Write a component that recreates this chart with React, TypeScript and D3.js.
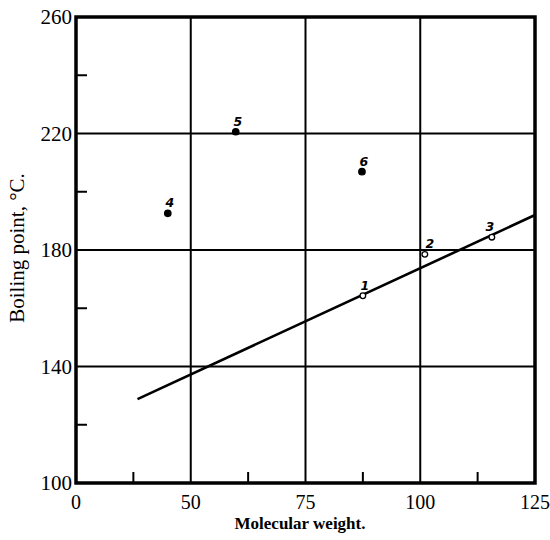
import React from "react";
import * as d3 from "d3";

// Data
const pointIds = ["1", "2", "3", "4", "5", "6"];
const molWeights = [87.5, 101, 115.6, 45, 59.8, 87.3];
const boilingPoints = [164.3, 178.5, 184.4, 192.6, 220.6, 206.9];
const pointFilled = [false, false, false, true, true, true];

const lineX = [38.4, 125];
const lineY = [128.8, 192];

const xTickValues = [25, 50, 75, 100, 125];
const xTickLabels = ["0", "50", "75", "100", "125"];
const xMinorTicks = [37.5, 62.5, 87.5, 112.5];
const xGrid = [50, 75, 100];

const yTickValues = [100, 140, 180, 220, 260];
const yTickLabels = ["100", "140", "180", "220", "260"];
const yMinorTicks = [120, 160, 200, 240];
const yGrid = [140, 180, 220];

const W = 550;
const H = 540;
const M = { left: 76, right: 535, top: 17, bottom: 483 };
const FONT = "'Liberation Serif', 'DejaVu Serif', serif";

export default function App() {
  const x = d3.scaleLinear().domain([25, 125]).range([M.left, M.right]);
  const y = d3.scaleLinear().domain([100, 260]).range([M.bottom, M.top]);
  const line = d3
    .line<number>()
    .x((_, i) => x(lineX[i]))
    .y((d) => y(d));

  return (
    <svg
      width={W}
      height={H}
      style={{ position: "absolute", left: 0, top: 0, background: "#fff" }}
    >
      {/* grid */}
      {xGrid.map((v) => (
        <line key={"gx" + v} x1={x(v)} x2={x(v)} y1={y(100)} y2={y(260)} stroke="#000" strokeWidth={2} />
      ))}
      {yGrid.map((v) => (
        <line key={"gy" + v} x1={x(25)} x2={x(125)} y1={y(v)} y2={y(v)} stroke="#000" strokeWidth={2} />
      ))}
      {/* minor ticks */}
      {xMinorTicks.map((v) => (
        <line key={"mx" + v} x1={x(v)} x2={x(v)} y1={y(100)} y2={y(100) - 11} stroke="#000" strokeWidth={2} />
      ))}
      {yMinorTicks.map((v) => (
        <line key={"my" + v} x1={x(25)} x2={x(25) + 11} y1={y(v)} y2={y(v)} stroke="#000" strokeWidth={2} />
      ))}
      {/* frame */}
      <rect
        x={M.left}
        y={M.top}
        width={M.right - M.left}
        height={M.bottom - M.top}
        fill="none"
        stroke="#000"
        strokeWidth={3.5}
      />
      {/* regression line */}
      <path d={line(lineY) || ""} fill="none" stroke="#000" strokeWidth={2.6} />
      {/* points */}
      {pointIds.map((id, i) => (
        <g key={"p" + id}>
          <circle
            cx={x(molWeights[i])}
            cy={y(boilingPoints[i])}
            r={pointFilled[i] ? 3.2 : 2.8}
            fill={pointFilled[i] ? "#000" : "#fff"}
            stroke="#000"
            strokeWidth={1.3}
          />
          <text
            x={x(molWeights[i]) + (i === 1 ? 5 : i === 2 ? -2 : 2)}
            y={y(boilingPoints[i]) - 6}
            fontFamily="'DejaVu Sans', sans-serif"
            fontStyle="italic"
            fontWeight="bold"
            fontSize={12.5}
            textAnchor="middle"
          >
            {id}
          </text>
        </g>
      ))}
      {/* x tick labels */}
      {xTickValues.map((v, i) => (
        <text
          key={"xt" + v}
          x={x(v)}
          y={M.bottom + 26}
          fontFamily={FONT}
          fontSize={20}
          textAnchor="middle"
        >
          {xTickLabels[i]}
        </text>
      ))}
      {/* y tick labels */}
      {yTickValues.map((v, i) => (
        <text
          key={"yt" + v}
          x={M.left - 4}
          y={y(v) + 7}
          fontFamily={FONT}
          fontSize={21}
          textAnchor="end"
        >
          {yTickLabels[i]}
        </text>
      ))}
      {/* axis titles */}
      <text
        x={300}
        y={529}
        fontFamily={FONT}
        fontWeight="bold"
        fontSize={17}
        textAnchor="middle"
      >
        Molecular weight.
      </text>
      <text
        transform={`translate(24, ${248}) rotate(-90)`}
        fontFamily={FONT}
        fontSize={21}
        textAnchor="middle"
      >
        Boiling point, °C.
      </text>
    </svg>
  );
}
